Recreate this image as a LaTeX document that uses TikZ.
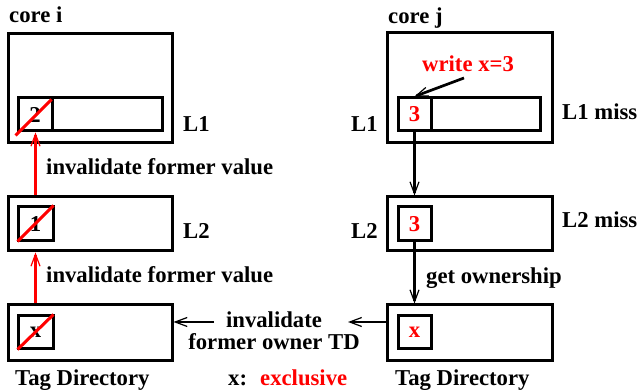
\documentclass[tikz,border=0pt]{standalone}
\usepackage{fontspec}
\setmainfont{Liberation Serif}
\usetikzlibrary{arrows.meta,calc}
\tikzset{
  lab/.style={font=\fontsize{22.7}{22}\selectfont\bfseries, inner sep=0pt},
  redlab/.style={lab, text=red},
  bigbox/.style={draw, line width=3pt, inner sep=0pt, minimum width=164pt},
  barbox/.style={draw, line width=3pt, inner sep=0pt, minimum height=33pt},
  cellbox/.style={draw, line width=3pt, inner sep=0pt, minimum width=34pt, minimum height=33pt, font=\fontsize{22.7}{22}\selectfont\bfseries},
  conn/.style={line width=2.7pt, -{Straight Barb[length=12pt,width=9pt,line width=1.2pt]}},
  redconn/.style={conn, draw=red},
  slash/.style={draw=red, line width=3pt},
}
\begin{document}
\begin{tikzpicture}[x=1pt,y=-1pt]
\useasboundingbox (0,0) rectangle (638,390);
% ---------- left column ----------
\node[lab, anchor=base west] (corei) at (9,23) {core i};
\node[bigbox, minimum height=109pt] (ci) at (90,88.5) {};
\node[barbox, minimum width=144pt] (l1ibar) at (90,114.5) {};
\node[cellbox] (l1icell) at (35,114.5) {2};
\node[lab, anchor=base west] (l1ilab) at (183,132) {L1};
\node[lab, anchor=base west] (inv1) at (46,175) {invalidate former value};

\node[bigbox, minimum height=54pt] (l2i) at (90,224) {};
\node[cellbox, minimum width=35pt, minimum height=34pt] (l2icell) at (35.5,224) {1};
\node[lab, anchor=base west] (l2ilab) at (183,239) {L2};
\node[lab, anchor=base west] (inv2) at (46,283) {invalidate former value};

\node[bigbox, minimum height=56pt] (tdi) at (90,333) {};
\node[cellbox, minimum width=35pt] (tdicell) at (35.5,332.5) {x};
\node[lab, anchor=base west] (tdilab) at (15,386) {Tag Directory};

% ---------- middle ----------
\node[lab, align=center] (invown) at (274,331) {invalidate\\former owner TD};
\node[lab, anchor=base west] (xlab) at (228,386) {x:};
\node[redlab, anchor=base west] (excl) at (260,386) {exclusive};
\coordinate (la) at (214,322);
\coordinate (ra) at (348,322);

% ---------- right column ----------
\node[lab, anchor=base west] (corej) at (388,24) {core j};
\node[bigbox, minimum width=165pt, minimum height=110pt] (cj) at (469.5,88) {};
\node[barbox, minimum width=142pt] (l1jbar) at (469,114.5) {};
\node[cellbox, minimum width=33pt, text=red] (l1jcell) at (414.5,114.5) {3};
\node[redlab, anchor=base west] (write) at (422,72) {write x=3};
\coordinate (ws) at (464,78);
\node[lab, anchor=base west] (l1jlab) at (351,132) {L1};
\node[lab, anchor=base west] (l1miss) at (562,120) {L1 miss};

\node[bigbox, minimum width=165pt, minimum height=54pt] (l2j) at (469.5,224) {};
\node[cellbox, minimum width=33pt, minimum height=34pt, text=red] (l2jcell) at (414.5,224) {3};
\node[lab, anchor=base west] (l2jlab) at (351,239) {L2};
\node[lab, anchor=base west] (l2miss) at (562,228) {L2 miss};
\node[lab, anchor=base west] (getown) at (426,284) {get ownership};

\node[bigbox, minimum width=165pt, minimum height=56pt] (tdj) at (469.5,333) {};
\node[cellbox, minimum width=33pt, text=red] (tdjcell) at (414.5,332.5) {x};
\node[lab, anchor=base west] (tdjlab) at (395,386) {Tag Directory};

% ---------- slashes ----------
\draw[slash] ($(l1icell.south west)+(-1,3)$) -- ($(l1icell.north east)+(-2,3)$);
\draw[slash] ($(l2icell.south west)+(1,-1)$) -- ($(l2icell.north east)+(-1,0)$);
\draw[slash] ($(tdicell.south west)+(1,-1)$) -- ($(tdicell.north east)+(-1,0)$);

% ---------- connectors ----------
\draw[redconn] (l2icell.center |- l2i.north) -- (l2icell.center |- l1icell.south);
\draw[redconn] (tdicell.center |- tdi.north) -- (tdicell.center |- l2i.south);
\draw[conn] (la) -- (la -| tdi.east);
\draw[conn] (ra -| tdj.west) -- (ra);
\draw[conn] (ws) -- (l1jcell.north);
\draw[conn] (l1jcell.south) -- (l1jcell.center |- l2j.north);
\draw[conn] (l2jcell.south) -- (l2jcell.center |- tdj.north);
\end{tikzpicture}
\end{document}
